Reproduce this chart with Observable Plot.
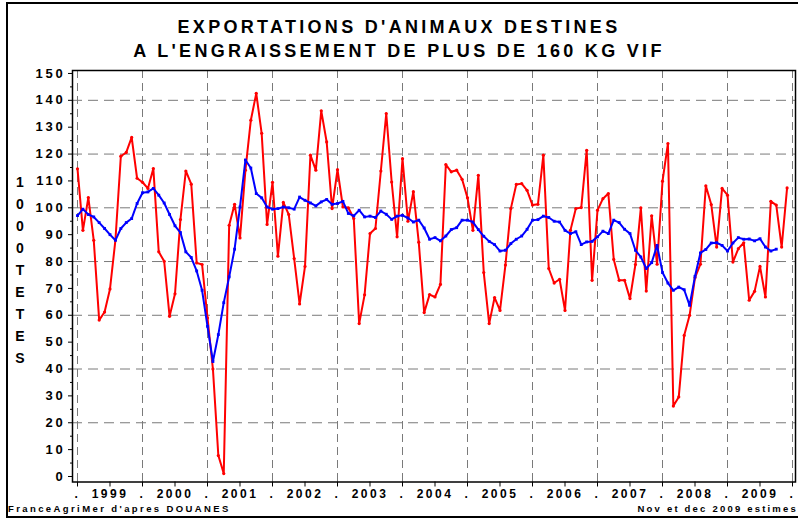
<!DOCTYPE html>
<html>
<head>
<meta charset="utf-8">
<script src="https://cdn.jsdelivr.net/npm/d3@7"></script>
<script src="https://cdn.jsdelivr.net/npm/@observablehq/plot@0.6"></script>
<style>
  html, body { margin: 0; padding: 0; background: #fff; }
  #wrap { position: relative; width: 798px; height: 519px; overflow: hidden; font-family: "Liberation Sans", Arial, sans-serif; }
  #chart { position: absolute; left: 0; top: 0; }
  .title { position: absolute; left: 0; width: 798px; text-align: center; font-weight: bold; font-size: 18px; letter-spacing: 3.3px; color: #000; }
  .foot { position: absolute; font-size: 9.5px; font-weight: bold; letter-spacing: 2.4px; color: #000; white-space: nowrap; }
  #ytitle { position: absolute; left: 12px; top: 171px; width: 16px; text-align: center; font-weight: bold; font-size: 14px; line-height: 22px; }
  .bl { position: absolute; background: #000; }
  #chart g[aria-label="y-axis tick label"] text { letter-spacing: 2.8px; }
  #chart g[aria-label="x-axis tick label"] text { letter-spacing: 2.5px; }
</style>
</head>
<body>
<div id="wrap">
  <div id="chart"></div>
  <div class="title" style="top:17px">EXPORTATIONS D'ANIMAUX DESTINES</div>
  <div class="title" style="top:41px">A L'ENGRAISSEMENT DE PLUS DE 160 KG VIF</div>
  <div id="ytitle"></div>
  <div class="foot" style="left:8px; top:503px">FranceAgriMer d'apres DOUANES</div>
  <div class="foot" style="right:0px; top:503px; letter-spacing:2.2px">Nov et dec 2009 estimes</div>
  <div class="bl" style="left:6px; top:2px; width:2px; height:516px"></div>
  <div class="bl" style="left:6px; top:2px; width:792px; height:2px"></div>
  <div class="bl" style="left:6px; top:516px; width:792px; height:2px"></div>
</div>
<script>
// Monthly exports, thousand head, Jan 1999 .. Dec 2009
const startYear = 1999;
const monthly = [
  114.5, 91.6, 103.8, 87.9, 58.2, 61.2, 69.8, 88.0, 119.2, 120.6, 126.2, 111.0,
  109.5, 107.2, 114.6, 83.6, 80.1, 59.6, 68.0, 95.6, 113.7, 108.8, 79.5, 78.9,
  59.0, 40.0, 7.8, 1.1, 93.5, 101.3, 88.8, 114.0, 132.6, 142.6, 127.7, 93.8,
  109.5, 82.0, 102.0, 97.5, 81.1, 64.2, 78.2, 119.6, 114.0, 136.1, 124.5, 99.7,
  114.2, 100.3, 100.0, 96.0, 56.9, 67.6, 90.4, 92.3, 113.7, 135.1, 109.6, 89.2,
  118.3, 95.0, 106.0, 87.2, 61.0, 67.7, 66.8, 71.5, 116.1, 113.4, 114.0, 110.6,
  103.7, 91.6, 112.1, 75.9, 56.9, 66.6, 61.8, 78.7, 99.7, 108.7, 109.0, 106.5,
  101.0, 101.3, 119.6, 77.4, 72.0, 73.4, 61.8, 91.6, 99.7, 100.1, 121.4, 73.0,
  99.1, 103.4, 105.3, 80.8, 73.0, 73.0, 66.2, 78.9, 100.0, 69.0, 97.0, 79.0,
  109.9, 123.9, 26.2, 29.6, 52.5, 60.0, 74.0, 79.0, 108.2, 101.2, 85.4, 107.2,
  104.7, 79.8, 84.8, 87.0, 65.6, 68.9, 78.2, 66.8, 102.4, 101.0, 85.4, 107.4
];
// Moving average (blue), Jan 1999 .. Oct 2009
const smoothed = [
  97.1, 99.5, 97.5, 96.6, 94.5, 92.3, 90.0, 87.9, 92.3, 94.5, 96.0, 101.6,
  105.6, 105.9, 107.2, 104.7, 101.8, 97.5, 93.3, 90.8, 83.6, 81.5, 76.5, 69.3,
  55.9, 42.8, 52.8, 64.7, 74.3, 84.6, 100.3, 117.8, 114.8, 105.3, 103.7, 100.3,
  99.5, 99.7, 100.3, 100.0, 99.5, 104.0, 102.8, 101.8, 100.7, 102.2, 103.1, 101.3,
  101.6, 102.4, 97.9, 97.0, 99.1, 96.6, 96.9, 96.4, 98.8, 97.6, 95.7, 96.9,
  97.2, 96.2, 94.7, 95.4, 92.5, 88.3, 88.9, 87.7, 89.5, 91.9, 92.6, 95.4,
  95.4, 94.7, 91.9, 89.4, 87.5, 86.3, 83.9, 84.2, 86.7, 88.3, 89.5, 92.0,
  95.4, 95.6, 96.9, 96.4, 95.0, 94.7, 91.6, 90.4, 91.1, 86.3, 87.3, 87.5,
  89.2, 91.3, 90.4, 95.4, 94.5, 92.0, 90.4, 84.2, 81.7, 77.4, 79.6, 86.0,
  75.9, 72.0, 69.3, 70.5, 69.5, 63.7, 74.5, 83.2, 84.5, 86.9, 87.0, 86.0,
  83.9, 86.9, 88.9, 88.3, 88.4, 87.7, 88.5, 85.4, 83.9, 84.6
];
const years = [1999, 2000, 2001, 2002, 2003, 2004, 2005, 2006, 2007, 2008, 2009];
const yTickValues = d3.range(0, 151, 10);
const yMinorTicks = d3.range(5, 150, 10);
const yGridValues = [20, 40, 60, 80, 100, 120, 140];
const yTitle = "1000TETES";

document.getElementById("ytitle").innerHTML = yTitle.split("").map(c => `<div>${c}</div>`).join("");

const red = monthly.map((v, i) => ({t: startYear + i / 12, v}));
const blue = smoothed.map((v, i) => ({t: startYear + i / 12, v}));
const boundaries = [...years, years[years.length - 1] + 1];
const halfYears = d3.range(startYear, 2010.01, 0.5);
const blank = () => "";

const chart = Plot.plot({
  width: 798,
  height: 519,
  marginTop: 70,
  marginBottom: 37.5,
  marginLeft: 72,
  marginRight: 3,
  style: {fontFamily: "Liberation Sans, Arial, sans-serif", background: "transparent", color: "#000"},
  x: {type: "linear", domain: [1998.923, 2010.046]},
  y: {domain: [-2.05, 151.1]},
  marks: [
    Plot.gridY(yGridValues, {stroke: "#7a7a7a", strokeOpacity: 1, strokeDasharray: "10,6"}),
    Plot.gridX(boundaries, {stroke: "#7a7a7a", strokeOpacity: 1, strokeDasharray: "8,5"}),
    Plot.axisY(yTickValues, {tickSize: 4, tickPadding: 3, fontSize: 13, fontWeight: "bold", label: null}),
    Plot.axisY(yMinorTicks, {tickSize: 2, tickFormat: blank, label: null}),
    Plot.axisX(halfYears, {tickSize: 5, tickFormat: blank, label: null}),
    Plot.axisX(years.map(y => y + 0.5), {tickSize: 0, tickPadding: 7, fontSize: 12, fontWeight: "bold", tickFormat: d => String(Math.floor(d)), label: null}),
    Plot.axisX(boundaries, {tickSize: 0, tickPadding: 7, fontSize: 12, fontWeight: "bold", tickFormat: () => ".", label: null}),
    Plot.line(red, {x: "t", y: "v", stroke: "#ff0000", strokeWidth: 2}),
    Plot.dot(red, {x: "t", y: "v", r: 1.6, fill: "#ff0000"}),
    Plot.line(blue, {x: "t", y: "v", stroke: "#0000ff", strokeWidth: 2}),
    Plot.dot(blue, {x: "t", y: "v", r: 1.6, fill: "#0000ff", symbol: "square"}),
    Plot.frame({stroke: "#000", strokeWidth: 1.5})
  ]
});
document.getElementById("chart").appendChild(chart);
</script>
</body>
</html>
